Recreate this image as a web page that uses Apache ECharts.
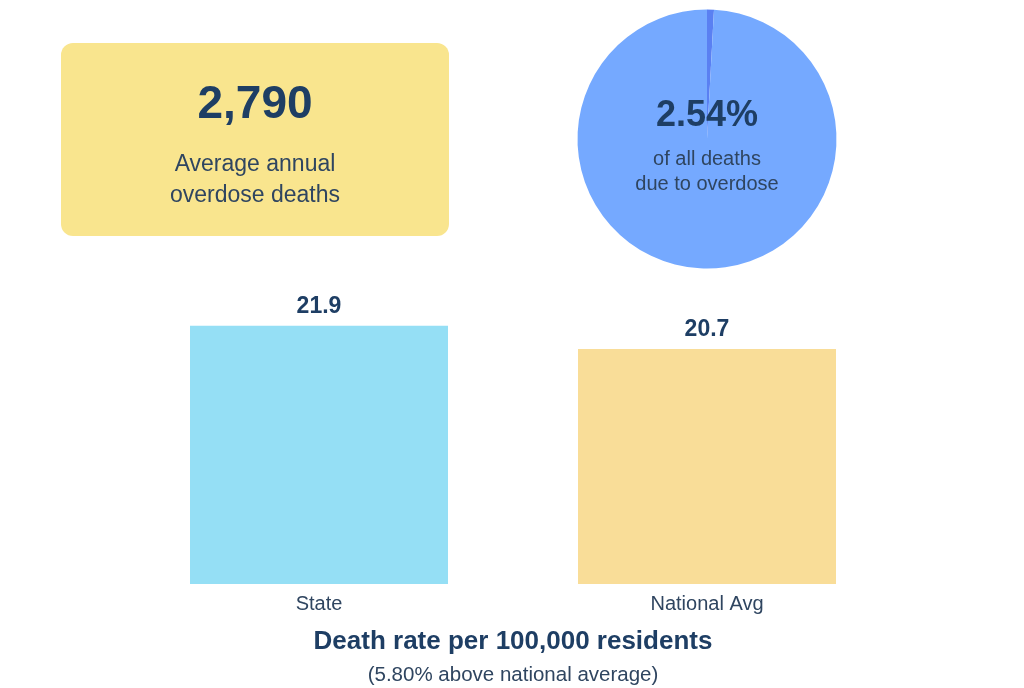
<!DOCTYPE html>
<html>
<head>
<meta charset="utf-8">
<script src="https://cdn.jsdelivr.net/npm/echarts@6/dist/echarts.min.js"></script>
<style>
html,body{margin:0;padding:0;background:#fff;}
#chart{width:1024px;height:688px;}
</style>
</head>
<body>
<div id="chart"></div>
<script>
// ---- data ----
const summaryValue = '2,790';
const summaryLines = ['Average annual', 'overdose deaths'];
const pieNames = ['Overdose', 'Other causes'];
const pieShares = [0.86, 99.14];
const pieHeadline = '2.54%';
const pieLines = ['of all deaths', 'due to overdose'];
const categories = ['State', 'National Avg'];
const rates = [21.9, 20.7];
const chartTitle = 'Death rate per 100,000 residents';
const chartSubtitle = '(5.80% above national average)';

const FONT = '"Liberation Sans", Arial, sans-serif';
const DARK = '#1E3E64';
const TEXT = '#2F4560';
const barColors = ['#95DFF5', '#F9DD98'];
const pieColors = ['#5A80F2', '#75A9FF'];

const chart = echarts.init(document.getElementById('chart'), null, {renderer: 'canvas'});

function txt(str, x, y, size, weight, color) {
  return {
    type: 'text', x: x, y: y, silent: true, z: 10,
    style: {text: str, fill: color, fontSize: size, fontWeight: weight, fontFamily: FONT,
            align: 'center', verticalAlign: 'middle'}
  };
}

const option = {
  backgroundColor: '#ffffff',
  animation: false,
  grid: {left: 125, right: 123, top: 285, bottom: 104},
  xAxis: {
    type: 'category', data: categories,
    axisLine: {show: false}, axisTick: {show: false},
    axisLabel: {color: TEXT, fontSize: 20, fontFamily: FONT, margin: 10}
  },
  yAxis: {
    type: 'value', min: 8.6, max: 24, show: false, splitLine: {show: false}
  },
  series: [
    {
      type: 'bar', barWidth: 258,
      data: rates.map((v, i) => ({value: v, itemStyle: {color: barColors[i]}})),
      label: {show: true, position: 'top', distance: 8, color: DARK, fontSize: 23,
              fontWeight: 'bold', fontFamily: FONT}
    },
    {
      type: 'pie', center: [707, 139], radius: [0, 129.5], startAngle: 90, clockwise: true,
      label: {show: false}, labelLine: {show: false}, silent: true,
      data: pieShares.map((v, i) => ({name: pieNames[i], value: v, itemStyle: {color: pieColors[i]}}))
    }
  ],
  graphic: [
    {type: 'rect', shape: {x: 61, y: 43, width: 388, height: 193, r: 12}, style: {fill: '#F9E58E'}, silent: true},
    txt(summaryValue, 255, 105, 46, 'bold', DARK),
    txt(summaryLines[0], 255, 165, 23, 'normal', TEXT),
    txt(summaryLines[1], 255, 196, 23, 'normal', TEXT),
    txt(pieHeadline, 707, 116, 36, 'bold', DARK),
    txt(pieLines[0], 707, 159, 20, 'normal', TEXT),
    txt(pieLines[1], 707, 184, 20, 'normal', TEXT),
    txt(chartTitle, 513, 642, 26, 'bold', DARK),
    txt(chartSubtitle, 513, 675, 20.5, 'normal', TEXT)
  ]
};
chart.setOption(option);
</script>
</body>
</html>
